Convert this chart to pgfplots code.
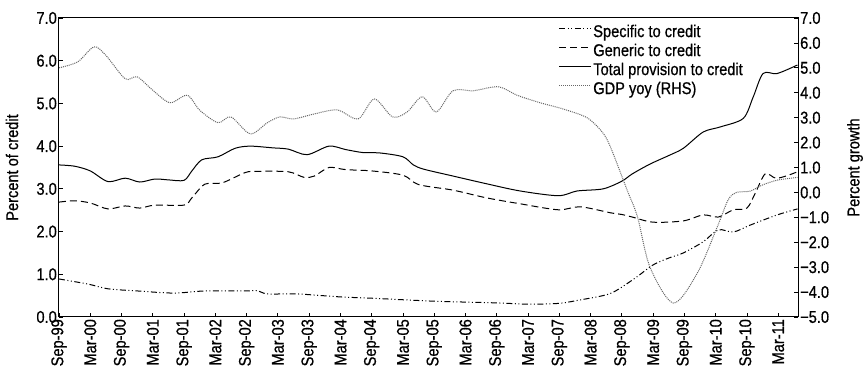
\documentclass[border=0pt]{standalone}
\usepackage{pgfplots}
\pgfplotsset{compat=1.18}
\usepackage{pgfplotstable}
\usepackage{fontspec}
\setmainfont{Liberation Sans}[FakeStretch=0.86, FakeBold=0.7]
\newcommand\bigf{\fontsize{17}{19}\selectfont}

\pgfplotstableread{
m v
0 3.56
3 3.53
6 3.42
9.4 3.17
12.7 3.25
15.5 3.16
18.4 3.23
21 3.21
24 3.2
25.5 3.42
27.4 3.68
30.5 3.75
33.8 3.95
36.7 4.0
41 3.96
44 3.93
47.6 3.8
51.8 4.0
55 3.92
58.3 3.85
61.6 3.84
66 3.75
68 3.56
70 3.46
75.6 3.3
82 3.12
88.5 2.95
95.8 2.84
99.4 2.95
104.4 3.0
108 3.18
110 3.35
113.4 3.58
117 3.78
119.8 3.95
123.6 4.33
126.9 4.45
131.3 4.65
133.2 5.15
135.1 5.7
137.8 5.7
141.7 5.9
}\total

\pgfplotstableread{
m v
0 2.69
3 2.72
6 2.67
9.4 2.53
12.7 2.6
15.5 2.55
18.4 2.62
24 2.62
25.5 2.79
28 3.11
31.3 3.14
35.7 3.38
38 3.41
44 3.4
47 3.27
49 3.3
51.8 3.5
55 3.45
60 3.42
66 3.32
69 3.1
75.6 2.97
82 2.79
88.5 2.65
95.8 2.51
100 2.58
105.8 2.44
108 2.4
110 2.34
114 2.22
119.8 2.25
123.6 2.39
126.5 2.34
129.4 2.51
132 2.55
133.6 2.9
135.5 3.35
137.5 3.25
139.5 3.3
141.7 3.4
}\generic

\pgfplotstableread{
m v
0 0.89
5.6 0.77
9.4 0.66
15 0.61
22 0.56
28 0.61
35.7 0.61
38 0.62
40 0.54
45.7 0.54
54 0.47
60 0.44
72 0.37
84 0.33
90 0.3
96 0.32
100 0.4
104 0.49
106 0.56
108 0.7
111 0.95
114 1.22
117 1.38
119.8 1.5
123.6 1.76
126.5 2.04
129.4 1.99
132.6 2.15
137.8 2.39
141.7 2.53
}\specific

\pgfplotstableread{
m v
0 5.0
3.6 5.24
6.7 5.84
9 5.5
12.7 4.56
15 4.64
18 4.1
21.3 3.6
24.6 3.9
27 3.3
30.5 2.8
33 3.03
36.7 2.35
40 2.8
42.4 3.03
45 2.95
49 3.15
53.4 3.31
57.4 2.95
60.5 3.75
64 3.03
66.8 3.23
69.7 3.84
72.4 3.23
75.6 4.08
79.5 4.08
84.3 4.24
87.9 3.9
92.3 3.6
96.7 3.35
101.3 3.0
104.2 2.43
105.8 1.83
109 0.1
111 -0.98
113.4 -3.0
117.9 -4.44
122.5 -3.23
126.3 -1.39
128.4 -0.3
130 0.0
132.6 0.05
135 0.3
138 0.5
141.7 0.6
}\gdp

\tikzset{
  specst/.style={black, line width=1pt, dash pattern=on 6pt off 2.5pt on 1pt off 2.5pt on 1pt off 2.5pt},
  genst/.style={black, line width=1pt, dash pattern=on 7pt off 4pt},
  totst/.style={black, line width=1pt},
  gdpst/.style={black!60, line width=1pt, dash pattern=on 1pt off 1pt},
}

\begin{document}
\begin{tikzpicture}
\useasboundingbox (-59pt,-70pt) rectangle (809pt,317pt);
\begin{axis}[
  at={(0pt,0pt)}, anchor=south west,
  scale only axis, width=739pt, height=299pt,
  xmin=0, xmax=141.8, ymin=0, ymax=7,
  ytick pos=left, xtick pos=bottom,
  tick align=inside, major tick length=4pt,
  axis line style={line width=1pt}, tick style={black, line width=0.8pt},
  ytick={0,1,2,3,4,5,6,7},
  yticklabels={0.0,1.0,2.0,3.0,4.0,5.0,6.0,7.0},
  xtick={0,6,...,138},
  xticklabels={Sep-99,Mar-00,Sep-00,Mar-01,Sep-01,Mar-02,Sep-02,Mar-03,Sep-03,Mar-04,Sep-04,Mar-05,Sep-05,Mar-06,Sep-06,Mar-07,Sep-07,Mar-08,Sep-08,Mar-09,Sep-09,Mar-10,Sep-10,Mar-11},
  x tick label style={rotate=90, anchor=east, font=\bigf, inner sep=2pt},
  y tick label style={font=\bigf, inner sep=2pt},
  ylabel={Percent of credit},
  ylabel style={font=\bigf, at={([xshift=-47pt]axis description cs:0,0.5)}, anchor=center},
]
\addplot[specst, smooth, tension=0.5] table[x=m,y=v]{\specific};
\addplot[genst, smooth, tension=0.5] table[x=m,y=v]{\generic};
\addplot[totst, smooth, tension=0.5] table[x=m,y=v]{\total};
\end{axis}
\begin{axis}[
  at={(0pt,0pt)}, anchor=south west,
  scale only axis, width=739pt, height=299pt,
  xmin=0, xmax=141.8, ymin=-5, ymax=7,
  axis x line=none, axis y line*=right,
  tick align=inside, major tick length=4pt,
  axis line style={line width=1pt}, tick style={black, line width=0.8pt},
  ytick={-5,-4,-3,-2,-1,0,1,2,3,4,5,6,7},
  yticklabels={−5.0,−4.0,−3.0,−2.0,−1.0,0.0,1.0,2.0,3.0,4.0,5.0,6.0,7.0},
  y tick label style={font=\bigf, inner sep=2pt},
  ylabel={Percent growth},
  ylabel style={font=\bigf, at={([xshift=57pt]axis description cs:1,0.5)}, anchor=center},
  legend style={at={(0.676,0.977)}, anchor=north west, draw=none, fill=none, font=\bigf, row sep=4pt, inner sep=0pt, nodes={inner xsep=1.5pt, inner ysep=0pt, text height=12pt, text depth=3pt}},
  legend cell align=left,
  legend image code/.code={\draw[#1] (0pt,4pt) -- (32pt,4pt);},
]
\addlegendimage{specst}
\addlegendentry{Specific to credit}
\addlegendimage{genst}
\addlegendentry{Generic to credit}
\addlegendimage{totst}
\addlegendentry{Total provision to credit}
\addplot[gdpst, smooth, tension=0.5] table[x=m,y=v]{\gdp};
\addlegendentry{GDP yoy (RHS)}
\end{axis}
\end{tikzpicture}
\end{document}
